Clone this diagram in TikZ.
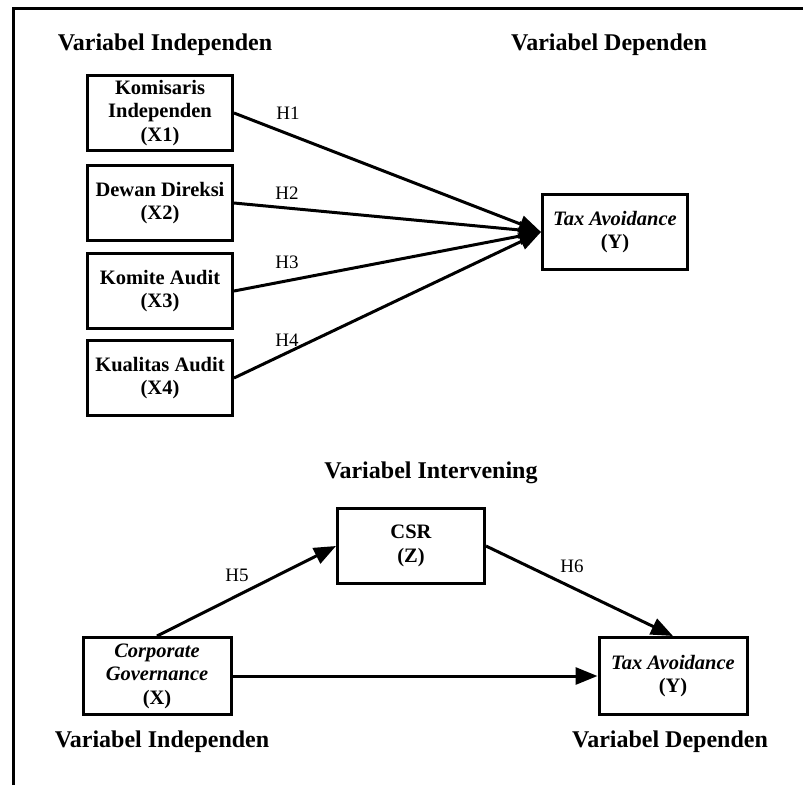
\documentclass[tikz,border=0pt]{standalone}
\usepackage{fontspec}
\setmainfont{Liberation Serif}
\usetikzlibrary{arrows.meta}
\begin{document}
\begin{tikzpicture}[x=1pt,y=-1pt,
  box/.style={draw=black, line width=3pt, fill=white, rectangle, minimum width=145pt, minimum height=75pt, inner sep=2pt, align=center, font=\bfseries\fontsize{20.5}{23.5}\selectfont},
  header/.style={font=\bfseries\fontsize{24}{28}\selectfont, inner sep=0pt},
  hlabel/.style={font=\fontsize{19}{22}\selectfont, inner sep=0pt},
  conn/.style={line width=3pt, -{Triangle[length=22pt,width=17pt]}},
  frame/.style={line width=3pt}]
\useasboundingbox (0,0) rectangle (803,785);
% frame
\draw[frame] (13,785) -- (13,8) -- (803,8);
% headers
\node[header] (hInd) at (165,45) {Variabel Independen};
\node[header] (hDep) at (609,45) {Variabel Dependen};
\node[header] (hInt) at (431,473) {Variabel Intervening};
\node[header] (hInd2) at (162,742) {Variabel Independen};
\node[header] (hDep2) at (670,742) {Variabel Dependen};
% top boxes
\node[box] (x1) at (160,113) {Komisaris\\Independen\\(X1)};
\node[box] (x2) at (160,203) {Dewan Direksi\\(X2)};
\node[box] (x3) at (160,291) {Komite Audit\\(X3)};
\node[box] (x4) at (160,378) {Kualitas Audit\\(X4)};
\node[box] (y) at (615,232) {\textit{Tax Avoidance}\\(Y)};
% bottom boxes
\node[box, minimum width=147pt] (z) at (411,546) {CSR\\(Z)};
\node[box, minimum width=148pt, minimum height=77pt] (cg) at (157,676) {\textit{Corporate}\\\textit{Governance}\\(X)};
\node[box, minimum width=148pt, minimum height=77pt] (y2) at (673,676) {\textit{Tax Avoidance}\\(Y)};
% connectors
\draw[conn] (x1.east) -- (y.west);
\draw[conn] (x2.east) -- (y.west);
\draw[conn] (x3.east) -- (y.west);
\draw[conn] (x4.east) -- (y.west);
\draw[conn] (cg.north) -- (z.west);
\draw[conn] (z.east) -- (y2.north);
\draw[conn] (cg.east) -- (y2.west);
% labels
\node[hlabel] (h1) at (288,113) {H1};
\node[hlabel] (h2) at (287,193) {H2};
\node[hlabel] (h3) at (287,262) {H3};
\node[hlabel] (h4) at (287,340) {H4};
\node[hlabel] (h5) at (237,575) {H5};
\node[hlabel] (h6) at (572,566) {H6};
\end{tikzpicture}
\end{document}
